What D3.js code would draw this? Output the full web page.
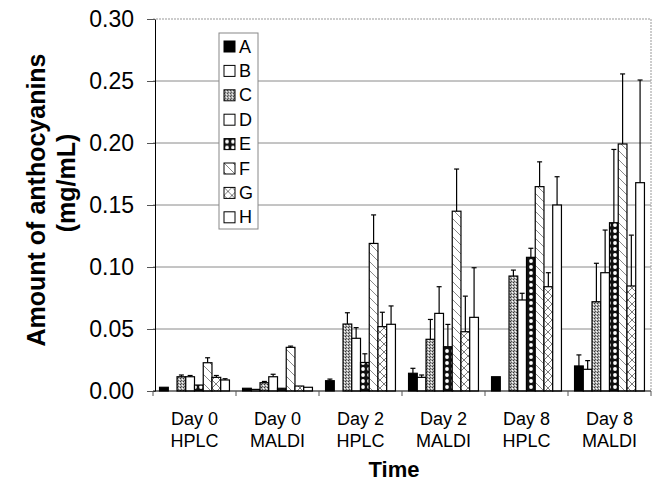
<!DOCTYPE html>
<html>
<head>
<meta charset="utf-8">
<script src="https://cdn.jsdelivr.net/npm/d3@7/dist/d3.min.js"></script>
<style>
  html, body { margin: 0; padding: 0; background: #fff; }
  svg { display: block; font-family: "Liberation Sans", Arial, sans-serif; }
</style>
</head>
<body>
<div id="chart"></div>
<script>
// categories (two-line labels) and series
const categories = ['Day 0|HPLC', 'Day 0|MALDI', 'Day 2|HPLC', 'Day 2|MALDI', 'Day 8|HPLC', 'Day 8|MALDI'];
const seriesNames = ['A', 'B', 'C', 'D', 'E', 'F', 'G', 'H'];

// mean values per series, in category order
const valuesA = [0.003, 0.0022, 0.0083, 0.0143, 0.0115, 0.0202];
const valuesB = [0, 0.0013, 0, 0.011, 0, 0.0175];
const valuesC = [0.0115, 0.0067, 0.054, 0.0417, 0.0927, 0.072];
const valuesD = [0.0115, 0.0115, 0.0425, 0.0626, 0.0734, 0.0954];
const valuesE = [0.0048, 0.0022, 0.023, 0.0357, 0.1078, 0.1357];
const valuesF = [0.0228, 0.0352, 0.119, 0.145, 0.1648, 0.1992];
const valuesG = [0.011, 0.004, 0.0519, 0.0478, 0.0841, 0.0847];
const valuesH = [0.0089, 0.003, 0.0538, 0.0594, 0.15, 0.168];

// upper error (standard deviation)
const errorsA = [0, 0, 0.0013, 0.004, 0, 0.0089];
const errorsB = [0, 0, 0, 0.0019, 0, 0.007];
const errorsC = [0.0014, 0.001, 0.0091, 0.016, 0.0048, 0.031];
const errorsD = [0.001, 0.002, 0.0086, 0.0215, 0.0054, 0.0344];
const errorsE = [0, 0, 0.007, 0.018, 0.0073, 0.0591];
const errorsF = [0.004, 0.001, 0.023, 0.034, 0.02, 0.0565];
const errorsG = [0.0015, 0, 0.0116, 0.0287, 0.0113, 0.041];
const errorsH = [0.001, 0, 0.0148, 0.04, 0.0228, 0.0828];

const yTicks = [0, 0.05, 0.10, 0.15, 0.20, 0.25, 0.30];

const allValues = [valuesA, valuesB, valuesC, valuesD, valuesE, valuesF, valuesG, valuesH];
const allErrors = [errorsA, errorsB, errorsC, errorsD, errorsE, errorsF, errorsG, errorsH];

const width = 656, height = 483;
const margin = { top: 19, right: 5, bottom: 92, left: 153 };

const svg = d3.select('#chart').append('svg')
  .attr('width', width)
  .attr('height', height);

// fill patterns
const defs = svg.append('defs');

const pC = defs.append('pattern').attr('id', 'patC')
  .attr('patternUnits', 'userSpaceOnUse').attr('width', 3).attr('height', 3);
pC.append('rect').attr('width', 3).attr('height', 3).attr('fill', '#b0b0b0');
pC.append('rect').attr('x', 0).attr('y', 0).attr('width', 1).attr('height', 1).attr('fill', '#333');
pC.append('rect').attr('x', 2).attr('y', 1).attr('width', 1).attr('height', 1).attr('fill', '#fff');
pC.append('rect').attr('x', 1).attr('y', 2).attr('width', 1).attr('height', 1).attr('fill', '#555');

const pE = defs.append('pattern').attr('id', 'patE')
  .attr('patternUnits', 'userSpaceOnUse').attr('width', 6).attr('height', 6);
pE.append('rect').attr('width', 6).attr('height', 6).attr('fill', '#111');
pE.append('circle').attr('cx', 3).attr('cy', 3).attr('r', 1.9).attr('fill', '#fff');

const pF = defs.append('pattern').attr('id', 'patF')
  .attr('patternUnits', 'userSpaceOnUse').attr('width', 9).attr('height', 9);
pF.append('rect').attr('width', 9).attr('height', 9).attr('fill', '#fff');
pF.append('path').attr('d', 'M0,0L9,9M-1,8L1,10M8,-1L10,1')
  .attr('stroke', '#555').attr('stroke-width', 0.7);

const pG = defs.append('pattern').attr('id', 'patG')
  .attr('patternUnits', 'userSpaceOnUse').attr('width', 8).attr('height', 8);
pG.append('rect').attr('width', 8).attr('height', 8).attr('fill', '#fff');
pG.append('path').attr('d', 'M0,0L8,8M0,8L8,0')
  .attr('stroke', '#444').attr('stroke-width', 0.7);

const fills = ['#000', '#fff', 'url(#patC)', '#fff', 'url(#patE)', 'url(#patF)', 'url(#patG)', '#fff'];

// scales
const x0 = d3.scaleBand()
  .domain(categories)
  .range([margin.left, width - margin.right])
  .padding(0);

const x1 = d3.scaleBand()
  .domain(seriesNames)
  .range([0, x0.bandwidth()])
  .paddingOuter(0.75)
  .paddingInner(0);

const y = d3.scaleLinear()
  .domain([0, 0.30])
  .range([height - margin.bottom, margin.top]);

const plotRight = width - margin.right;
const plotBottom = height - margin.bottom;

// gridlines
svg.append('g')
  .selectAll('line')
  .data(yTicks.filter(d => d > 0 && d < 0.30))
  .join('line')
  .attr('x1', margin.left)
  .attr('x2', plotRight)
  .attr('y1', d => y(d))
  .attr('y2', d => y(d))
  .attr('stroke', '#8a8a8a')
  .attr('stroke-width', 1);

// plot frame (top and right), dotted gray
svg.append('path')
  .attr('d', `M${margin.left},${y(0.30)}H${plotRight}V${plotBottom}`)
  .attr('fill', 'none')
  .attr('stroke', '#999')
  .attr('stroke-width', 1)
  .attr('stroke-dasharray', '2,1');

// bars
const rows = [];
seriesNames.forEach((s, i) => {
  categories.forEach((c, j) => {
    rows.push({ series: s, idx: i, cat: c, value: allValues[i][j], err: allErrors[i][j] });
  });
});

const barG = svg.append('g');

barG.selectAll('rect')
  .data(rows.filter(d => d.value > 0))
  .join('rect')
  .attr('x', d => x0(d.cat) + x1(d.series))
  .attr('y', d => y(d.value))
  .attr('width', x1.bandwidth())
  .attr('height', d => y(0) - y(d.value))
  .attr('fill', d => fills[d.idx])
  .attr('stroke', '#000')
  .attr('stroke-width', 1.2);

// error bars (upper only, with cap)
const errG = svg.append('g')
  .attr('stroke', '#000')
  .attr('stroke-width', 1.2);

const errRows = rows.filter(d => d.err > 0);

errG.selectAll('line.stem')
  .data(errRows)
  .join('line')
  .attr('class', 'stem')
  .attr('x1', d => x0(d.cat) + x1(d.series) + x1.bandwidth() / 2)
  .attr('x2', d => x0(d.cat) + x1(d.series) + x1.bandwidth() / 2)
  .attr('y1', d => y(d.value))
  .attr('y2', d => y(d.value + d.err));

errG.selectAll('line.cap')
  .data(errRows)
  .join('line')
  .attr('class', 'cap')
  .attr('x1', d => x0(d.cat) + x1(d.series) + x1.bandwidth() / 2 - 2.5)
  .attr('x2', d => x0(d.cat) + x1(d.series) + x1.bandwidth() / 2 + 2.5)
  .attr('y1', d => y(d.value + d.err))
  .attr('y2', d => y(d.value + d.err));

// y axis
const yAxis = svg.append('g')
  .attr('transform', `translate(${margin.left + 2},0)`)
  .call(d3.axisLeft(y)
    .tickValues(yTicks)
    .tickFormat(d3.format('.2f'))
    .tickSize(8)
    .tickSizeOuter(0)
    .tickPadding(13));

yAxis.select('.domain').attr('stroke', '#000').attr('stroke-width', 1);
yAxis.selectAll('.tick line').attr('stroke', '#555');
yAxis.selectAll('.tick text')
  .attr('fill', '#000')
  .style('font-size', '23px')
  .style('font-family', '"Liberation Sans", Arial, sans-serif');

// x axis line and category boundary ticks
const xAxis = svg.append('g');
xAxis.append('line')
  .attr('x1', margin.left)
  .attr('x2', plotRight)
  .attr('y1', plotBottom)
  .attr('y2', plotBottom)
  .attr('stroke', '#000')
  .attr('stroke-width', 1.2);

xAxis.selectAll('line.tick')
  .data(categories.map(c => x0(c)).concat([plotRight]))
  .join('line')
  .attr('class', 'tick')
  .attr('x1', d => d)
  .attr('x2', d => d)
  .attr('y1', plotBottom)
  .attr('y2', plotBottom + 5)
  .attr('stroke', '#555');

const catLabels = xAxis.selectAll('text')
  .data(categories)
  .join('text')
  .attr('text-anchor', 'middle')
  .style('font-size', '18px')
  .attr('fill', '#000');

catLabels.selectAll('tspan')
  .data(c => c.split('|').map((t, k) => ({ t, k, c })))
  .join('tspan')
  .attr('x', d => x0(d.c) + x0.bandwidth() / 2)
  .attr('y', d => plotBottom + 34 + d.k * 22)
  .text(d => d.t);

// axis titles
svg.append('text')
  .attr('x', 394)
  .attr('y', 477)
  .attr('text-anchor', 'middle')
  .style('font-size', '22px')
  .style('font-weight', 'bold')
  .text('Time');

svg.append('text')
  .attr('transform', 'translate(45,200) rotate(-90)')
  .attr('text-anchor', 'middle')
  .style('font-size', '25px')
  .style('font-weight', 'bold')
  .text('Amount of anthocyanins');

svg.append('text')
  .attr('transform', 'translate(75,183) rotate(-90)')
  .attr('text-anchor', 'middle')
  .style('font-size', '25px')
  .style('font-weight', 'bold')
  .text('(mg/mL)');

// legend
const legend = svg.append('g');
legend.append('rect')
  .attr('x', 219)
  .attr('y', 33)
  .attr('width', 39)
  .attr('height', 196)
  .attr('fill', '#fff')
  .attr('stroke', '#888')
  .attr('stroke-width', 1);

const items = legend.selectAll('g.item')
  .data(seriesNames)
  .join('g')
  .attr('class', 'item')
  .attr('transform', (d, i) => `translate(224,${41 + i * 24.4})`);

items.append('rect')
  .attr('width', 11)
  .attr('height', 11)
  .attr('fill', (d, i) => fills[i])
  .attr('stroke', '#000')
  .attr('stroke-width', 1);

items.append('text')
  .attr('x', 15)
  .attr('y', 11.5)
  .style('font-size', '18px')
  .text(d => d);
</script>
</body>
</html>
